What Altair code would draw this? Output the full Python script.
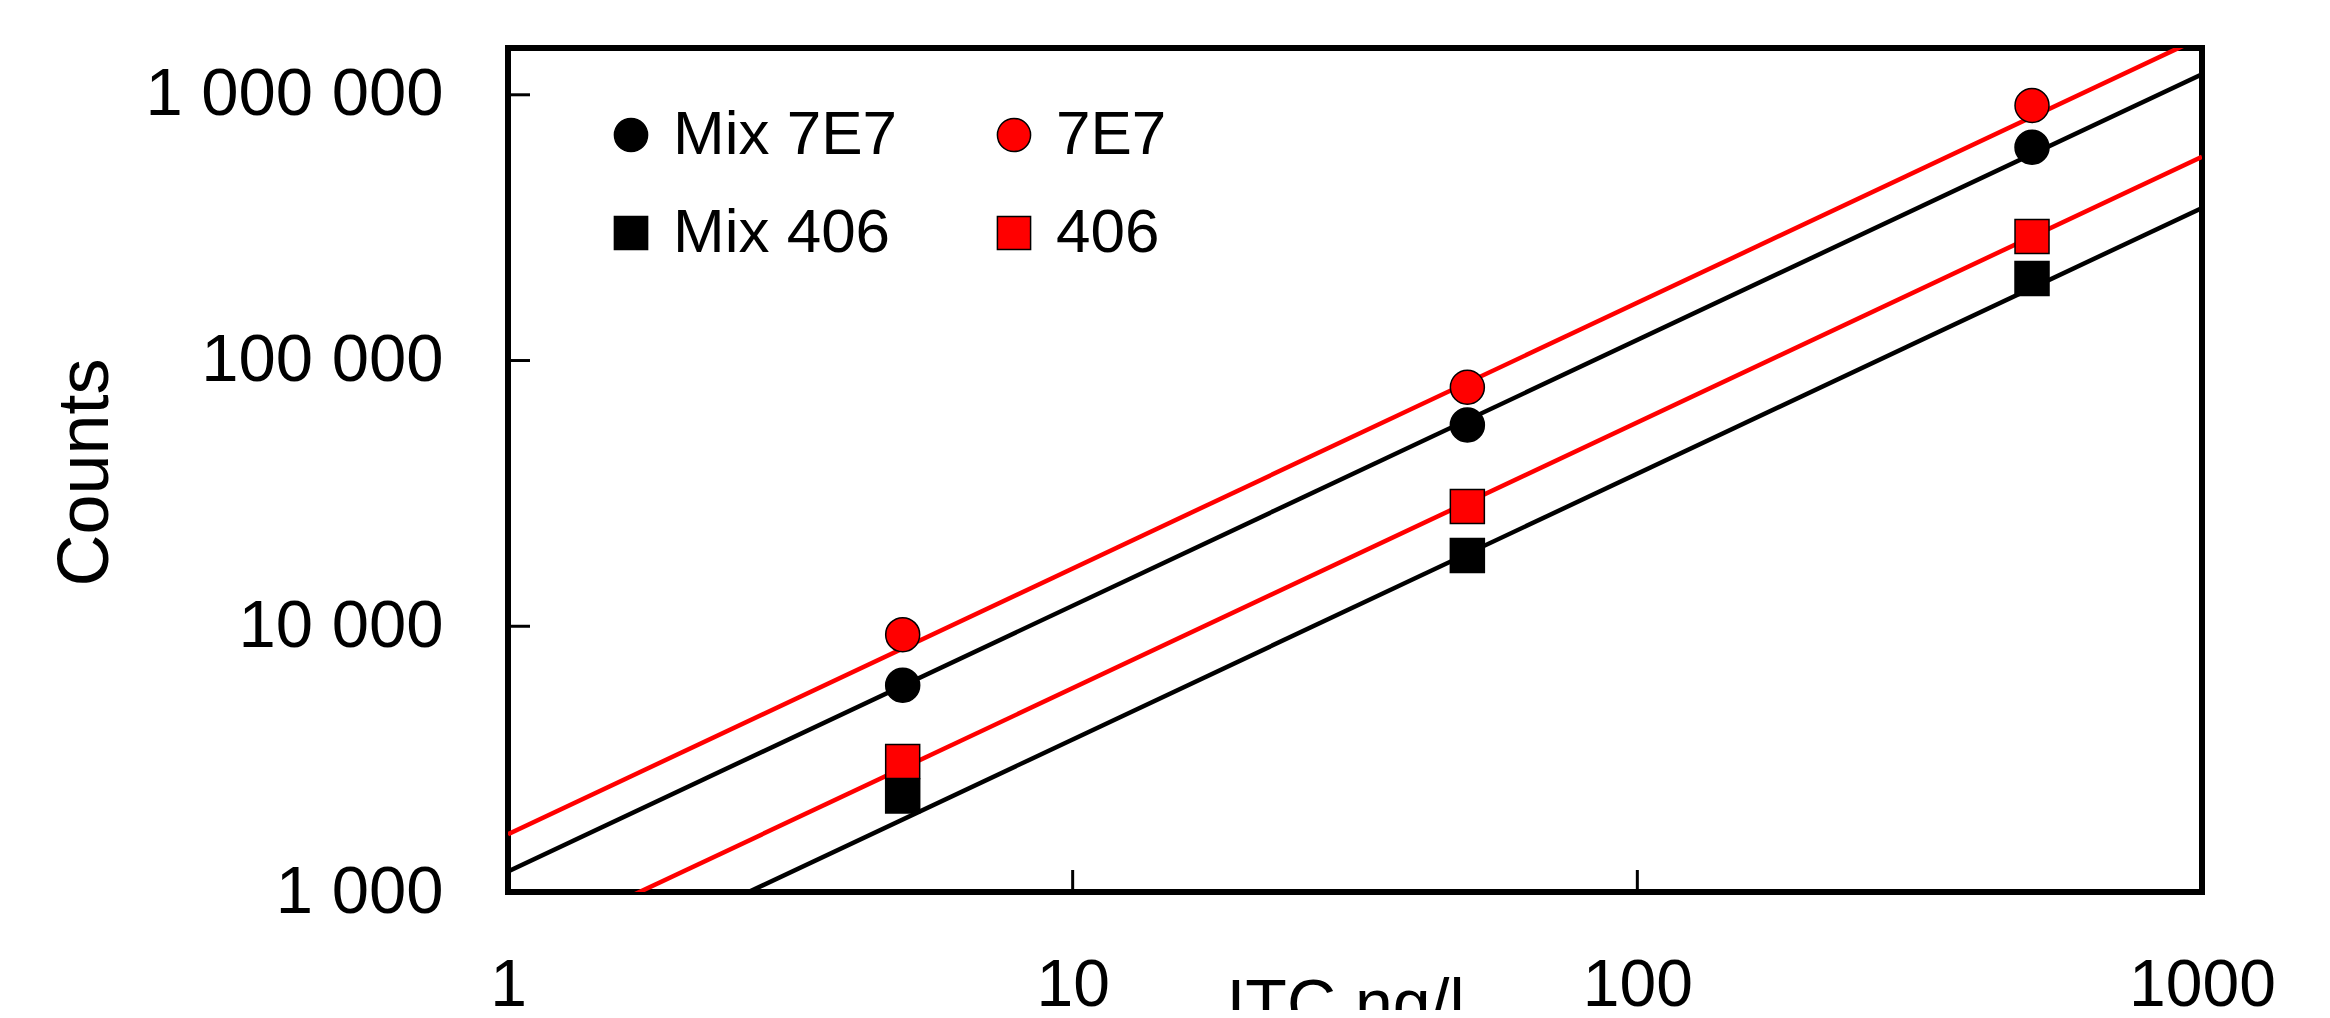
import altair as alt
import pandas as pd

# ---- data ----
# order chosen so the two-column legend reads: Mix 7E7 | 7E7 / Mix 406 | 406
series_names = ["Mix 7E7", "Mix 406", "7E7", "406"]
fit_names = ["Mix 7E7 fit", "Mix 406 fit", "7E7 fit", "406 fit"]
series_colors = ["#000000", "#000000", "#ff0000", "#ff0000"]
series_shapes = ["circle", "square", "circle", "square"]

conc = [5, 50, 500]
mix_7e7 = [6000, 57200, 635000]
mix_406 = [2300, 18450, 203700]
std_7e7 = [9300, 79300, 911000]
std_406 = [3100, 28250, 292600]

# fitted lines (read at x = 1 and x = 1000)
fit_x = [1, 1000]
fit_mix_7e7 = [1195, 1195000]
fit_mix_406 = [375, 375000]
fit_7e7 = [1650, 1650000]
fit_406 = [585, 585000]

x_tick_vals = [10, 100]
y_tick_vals = [10000, 100000, 1000000]
x_label_vals = [1, 10, 100, 1000]
y_label_vals = [1000, 10000, 100000, 1000000]

pts = pd.DataFrame({
    "conc": conc * 4,
    "counts": mix_7e7 + mix_406 + std_7e7 + std_406,
    "series": [s for s in series_names for _ in conc],
})
fits = pd.DataFrame({
    "conc": fit_x * 4,
    "counts": fit_mix_7e7 + fit_mix_406 + fit_7e7 + fit_406,
    "fit": [s for s in fit_names for _ in fit_x],
})
xt = pd.DataFrame({"conc": x_tick_vals})
yt = pd.DataFrame({"counts": y_tick_vals})

W, H = 1694, 844
FONT = "Liberation Sans"

xscale = alt.Scale(type="log", domain=[1, 1000], nice=False)
yscale = alt.Scale(type="log", domain=[1000, 1500000], nice=False)

xaxis = alt.Axis(
    values=x_label_vals, format="d", title="ITC ng/l",
    labelFontSize=66, labelFont=FONT, labelColor="black", labelLimit=0,
    labelPadding=61, labelFlush=False, labelBound=False, labelOverlap=False,
    ticks=False, tickSize=0, domain=False, grid=False,
    titleFontSize=68, titleFont=FONT, titleFontWeight="normal", titleColor="black",
    titleX=837, titleY=134, titleAlign="center", titleBaseline="alphabetic",
)
yaxis = alt.Axis(
    values=y_label_vals,
    labelExpr="replace(format(datum.value, ','), regexp(',', 'g'), ' ')",
    title="Counts",
    labelFontSize=67, labelFont=FONT, labelColor="black", labelLimit=0,
    labelPadding=65, labelFlush=False, labelBound=False, labelOverlap=False,
    ticks=False, tickSize=0, domain=False, grid=False,
    titleFontSize=72, titleFont=FONT, titleFontWeight="normal", titleColor="black",
    titleX=-401, titleY=424, titleAngle=270, titleAlign="center", titleBaseline="alphabetic",
)

x_enc = alt.X("conc:Q", scale=xscale, axis=xaxis)
y_enc = alt.Y("counts:Q", scale=yscale, axis=yaxis)

lines = alt.Chart(fits).mark_line(clip=True, strokeWidth=4.5).encode(
    x=x_enc, y=y_enc,
    stroke=alt.Stroke("fit:N", scale=alt.Scale(domain=fit_names, range=series_colors), legend=None),
    detail="fit:N",
)

leg = alt.Legend(orient="none", legendX=92, legendY=56, columns=2,
                 columnPadding=86, rowPadding=36,
                 title=None, labelFontSize=62, labelFont=FONT,
                 labelColor="black", labelOffset=11, labelLimit=0,
                 symbolSize=1100, symbolStrokeColor="black", symbolStrokeWidth=1.5)

points = alt.Chart(pts).mark_point(filled=True, size=1156, stroke="black", strokeWidth=1.5, opacity=1).encode(
    x=x_enc, y=y_enc,
    color=alt.Color("series:N", scale=alt.Scale(domain=series_names, range=series_colors), legend=leg),
    shape=alt.Shape("series:N", scale=alt.Scale(domain=series_names, range=series_shapes), legend=leg),
)

xticks = alt.Chart(xt).mark_rule(color="black", strokeWidth=3).encode(
    x=x_enc, y=alt.value(H), y2=alt.value(H - 22),
)
yticks = alt.Chart(yt).mark_rule(color="black", strokeWidth=3).encode(
    y=y_enc, x=alt.value(0), x2=alt.value(22),
)

chart = alt.layer(lines, xticks, yticks, points).properties(
    width=W, height=H,
    autosize=alt.AutoSizeParams(type="none"),
    padding={"left": 500, "top": 40, "right": 120, "bottom": 118},
    background="white",
).configure_view(
    stroke="black", strokeWidth=6,
)

chart.save("out.html", embed_options={"renderer": "svg", "actions": False})
